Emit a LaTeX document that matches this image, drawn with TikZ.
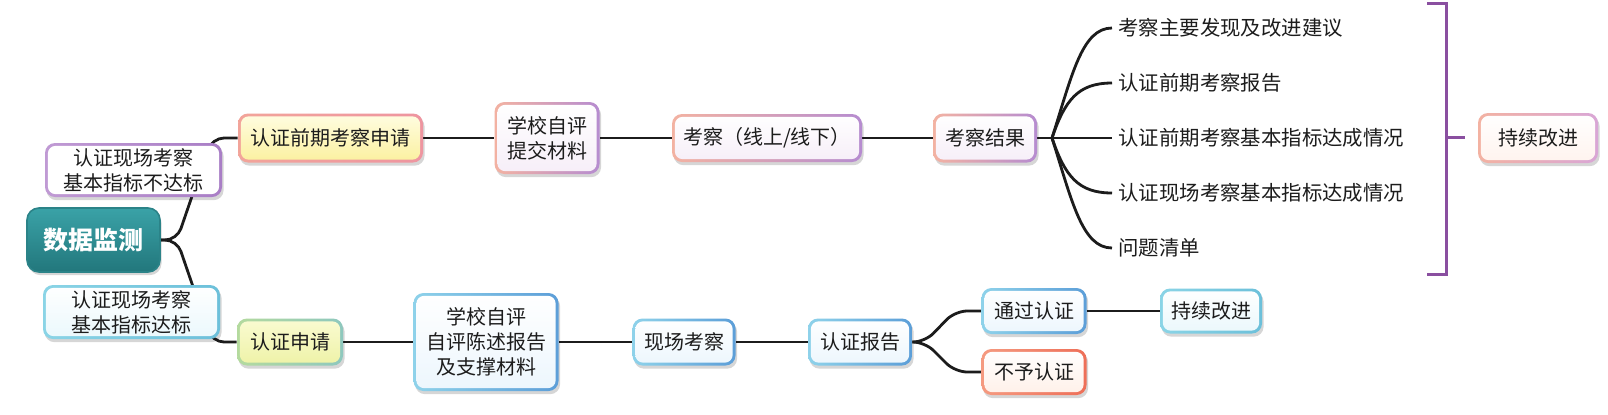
\documentclass[tikz,border=0pt]{standalone}
\usepackage{fontspec}
\setmainfont{Noto Sans CJK SC}
\usetikzlibrary{shadows}
\pgfdeclarelayer{back}
\pgfdeclarelayer{bg}
\pgfsetlayers{back,bg,main}
\definecolor{tealA}{HTML}{3AA2A7}
\definecolor{tealB}{HTML}{22777C}
\definecolor{tealE}{HTML}{2B8388}
\definecolor{peach}{HTML}{F3B2A2}
\definecolor{lav}{HTML}{B68CD0}
\definecolor{lavin}{HTML}{F6EEF8}
\definecolor{purpL}{HTML}{C09AD4}
\definecolor{purpR}{HTML}{A97EC6}
\definecolor{cyanL}{HTML}{8AD4E6}
\definecolor{cyanR}{HTML}{6CC0DA}
\definecolor{cyanin}{HTML}{EAF8FC}
\definecolor{redL}{HTML}{F2A49A}
\definecolor{redR}{HTML}{EE95A0}
\definecolor{yelA}{HTML}{FFFDE2}
\definecolor{yelB}{HTML}{FBF09E}
\definecolor{pinkR}{HTML}{D9A6D6}
\definecolor{pinkin}{HTML}{FFF3EE}
\definecolor{grnL}{HTML}{B4DA9E}
\definecolor{grnR}{HTML}{8EC8BE}
\definecolor{ygA}{HTML}{FAFBD2}
\definecolor{ygB}{HTML}{EEF2A6}
\definecolor{bluL}{HTML}{8ED2EA}
\definecolor{bluR}{HTML}{5C9ED8}
\definecolor{bluin}{HTML}{ECF6FD}
\definecolor{orL}{HTML}{F59A80}
\definecolor{orR}{HTML}{EE6F58}
\definecolor{orin}{HTML}{FFF0E8}
\definecolor{brk}{HTML}{8A4FA0}
\definecolor{ink}{HTML}{1C1C1C}
\newcommand\mybxfont{\fontsize{10}{12.5}\selectfont}
\newcommand\myitfont{\fontsize{10.2}{13}\selectfont}
\newcommand\mydatafont{\fontsize{12.5}{15}\selectfont\bfseries}
\tikzset{
  sz/.style 2 args={minimum width=#1*0.5pt, minimum height=#2*0.5pt},
  gb/.style n args={4}{shade, left color=#1, right color=#2, rounded corners=5pt,
    inner sep=0pt, align=center, font=\mybxfont, text=ink,
    drop shadow={shadow xshift=0.8pt, shadow yshift=-1.6pt, opacity=0.16, fill=black},
    path picture={\shade[top color=#3, bottom color=#4, rounded corners=4pt]
      ([shift={(1.4pt,1.4pt)}]path picture bounding box.south west) rectangle
      ([shift={(-1.4pt,-1.4pt)}]path picture bounding box.north east);}},
  topbox/.style={gb={peach}{lav}{white}{lavin}},
  blubox/.style={gb={bluL}{bluR}{white}{bluin}},
  itemtxt/.style={anchor=west, inner xsep=3pt, inner ysep=0pt, font=\myitfont, text=ink},
  conn/.style={draw=ink, line width=1.4pt},
  brkline/.style={draw=brk, line width=1.5pt},
}
\begin{document}
\begin{tikzpicture}[x=0.5pt,y=-0.5pt]
\begin{pgfonlayer}{back}
\fill[white] (0,0) rectangle (1608,414);
\end{pgfonlayer}
\useasboundingbox (0,0) rectangle (1608,414);

% left
\node[shade, top color=tealA, bottom color=tealB, draw=tealE, line width=0.8pt,
  rounded corners=6pt, inner sep=0pt, font=\mydatafont, text=white, sz={133}{64},
  drop shadow={shadow xshift=0.8pt, shadow yshift=-1.6pt, opacity=0.16, fill=black}]
  (data) at (93.5,240) {数据监测};
\node[gb={purpL}{purpR}{white}{white}, sz={177}{54}] (lbl1) at (133.5,170) {认证现场考察\\基本指标不达标};
\node[gb={cyanL}{cyanR}{white}{cyanin}, sz={177}{54}] (lbl2) at (131.5,312) {认证现场考察\\基本指标达标};

% top row
\node[gb={redL}{redR}{yelA}{yelB}, sz={185}{49}] (pre) at (330.5,138) {认证前期考察申请};
\node[topbox, sz={105}{72}] (self1) at (547,138) {学校自评\\提交材料};
\node[topbox, sz={190}{48}] (insp) at (767,138) {考察（线上/线下）};
\node[topbox, sz={104}{49}] (result) at (985,138) {考察结果};
\node[itemtxt] (i1) at (1112,28) {考察主要发现及改进建议};
\node[itemtxt] (i2) at (1112,83) {认证前期考察报告};
\node[itemtxt] (i3) at (1112,138) {认证前期考察基本指标达成情况};
\node[itemtxt] (i4) at (1112,193) {认证现场考察基本指标达成情况};
\node[itemtxt] (i5) at (1112,248) {问题清单};
\node[gb={peach}{pinkR}{white}{pinkin}, sz={120}{50}] (imp1) at (1538,138) {持续改进};

% bottom row
\node[gb={grnL}{grnR}{ygA}{ygB}, sz={106}{47}] (app) at (290,342) {认证申请};
\node[blubox, sz={145}{98}] (self2) at (486,342) {学校自评\\自评陈述报告\\及支撑材料};
\node[blubox, sz={103}{47}] (site) at (684,342) {现场考察};
\node[blubox, sz={104}{47}] (report) at (860,342) {认证报告};
\node[blubox, sz={105}{46}] (pass) at (1034,311) {通过认证};
\node[gb={orL}{orR}{white}{orin}, sz={105}{46}] (fail) at (1034,372) {不予认证};
\node[gb={cyanL}{cyanR}{white}{cyanin}, sz={102}{45}] (imp2) at (1211,311) {持续改进};

% bracket
\coordinate (bA) at (1427,3);
\coordinate (bB) at (1446,3);
\coordinate (bC) at (1446,274);
\coordinate (bD) at (1427,274);
\coordinate (bM) at (1446,137);
\coordinate (bT) at (1465,137);
\draw[brkline] (bA) -- (bB) -- (bC) -- (bD);
\draw[brkline] (bM) -- (bT);

\begin{pgfonlayer}{bg}
\coordinate (j0) at (177,240);
\draw[conn, rounded corners=6pt] (data.east) -- (j0) -- (212,138) -- (pre.west);
\draw[conn, rounded corners=6pt] (data.east) -- (j0) -- (212,342) -- (app.west);
\draw[conn] (pre.east) -- (self1.west);
\draw[conn] (self1.east) -- (insp.west);
\draw[conn] (insp.east) -- (result.west);
\coordinate (jr) at (1052,138);
\draw[conn] (result.east) -- (jr);
\draw[conn] (jr) .. controls (1072,75) and (1082,28) .. (i1.west);
\draw[conn] (jr) .. controls (1065,100) and (1078,83) .. (i2.west);
\draw[conn] (jr) -- (i3.west);
\draw[conn] (jr) .. controls (1065,176) and (1078,193) .. (i4.west);
\draw[conn] (jr) .. controls (1072,201) and (1082,248) .. (i5.west);
\draw[conn] (app.east) -- (self2.west);
\draw[conn] (self2.east) -- (site.west);
\draw[conn] (site.east) -- (report.west);
\coordinate (jb) at (925,342);
\draw[conn, rounded corners=6pt] (report.east) -- (jb) -- (955,311) -- (pass.west);
\draw[conn, rounded corners=6pt] (report.east) -- (jb) -- (955,372) -- (fail.west);
\draw[conn] (pass.east) -- (imp2.west);
\end{pgfonlayer}
\end{tikzpicture}
\end{document}
